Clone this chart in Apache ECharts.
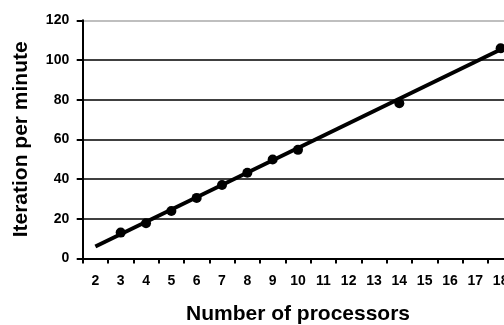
<!DOCTYPE html>
<html>
<head>
<meta charset="utf-8">
<script src="https://cdn.jsdelivr.net/npm/echarts@6/dist/echarts.min.js"></script>
<style>
html,body{margin:0;padding:0;background:#fff;}
#chart{width:504px;height:325px;}
</style>
</head>
<body>
<div id="chart"></div>
<script>
const categories = ['2','3','4','5','6','7','8','9','10','11','12','13','14','15','16','17','18'];
const pointX = ['3','4','5','6','7','8','9','10','14','18'];
const pointY = [13.0, 17.7, 23.9, 30.5, 37.0, 43.2, 49.8, 54.7, 78.2, 105.9];
const trendX = ['2','18'];
const trendY = [6.0, 105.3];
const yTicks = [0, 20, 40, 60, 80, 100, 120];

const chart = echarts.init(document.getElementById('chart'), null, {renderer:'canvas'});
const font = '"Liberation Sans", Arial, sans-serif';
chart.setOption({
  animation: false,
  backgroundColor: '#fff',
  grid: {left: 82.7, top: 20.3, width: 430.6, height: 238.1, containLabel: false, outerBoundsMode: 'none'},
  xAxis: {
    type: 'category',
    data: categories,
    boundaryGap: true,
    name: 'Number of processors',
    nameLocation: 'middle',
    nameGap: 45,
    nameTextStyle: {fontFamily: font, fontWeight: 'bold', fontSize: 21, color: '#000'},
    axisLine: {lineStyle: {color: '#000', width: 2}},
    axisTick: {show: true, alignWithLabel: false, length: 5, lineStyle: {color: '#000', width: 2}},
    axisLabel: {fontFamily: font, fontWeight: 'bold', fontSize: 14, color: '#000', margin: 15.5, interval: 0},
    splitLine: {show: false}
  },
  yAxis: {
    type: 'value',
    min: yTicks[0],
    max: yTicks[yTicks.length - 1],
    interval: 20,
    name: 'Iteration per minute',
    nameLocation: 'middle',
    nameGap: 51,
    nameRotate: 90,
    nameTextStyle: {fontFamily: font, fontWeight: 'bold', fontSize: 21, color: '#000'},
    axisLine: {show: true, lineStyle: {color: '#000', width: 2}},
    axisTick: {show: true, length: 6, lineStyle: {color: '#000', width: 2}},
    axisLabel: {fontFamily: font, fontWeight: 'bold', fontSize: 14, color: '#000', margin: 13.5},
    splitLine: {show: true, lineStyle: {color: ['#000','#000','#000','#000','#000','#000','#aaa'], width: 1.5}}
  },
  series: [
    {
      type: 'line',
      data: trendX.map((x, i) => [x, trendY[i]]),
      showSymbol: false,
      symbol: 'none',
      lineStyle: {color: '#000', width: 4},
      z: 3
    },
    {
      type: 'scatter',
      data: pointX.map((x, i) => [x, pointY[i]]),
      symbol: 'circle',
      symbolSize: 10,
      itemStyle: {color: '#000', opacity: 1},
      z: 4
    }
  ]
});
</script>
</body>
</html>
